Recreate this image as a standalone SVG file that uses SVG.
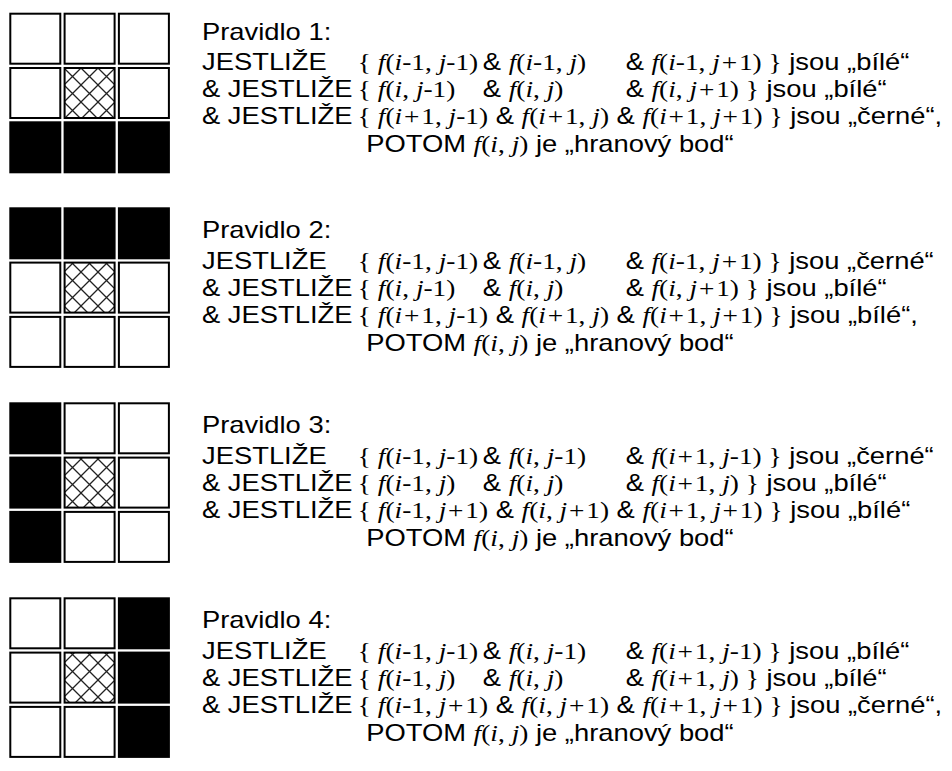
<svg xmlns="http://www.w3.org/2000/svg" width="952" height="771" viewBox="0 0 952 771">
<defs>
<pattern id="hatch" patternUnits="userSpaceOnUse" width="17" height="17" x="64" y="0">
<rect width="17" height="17" fill="#fff"/>
<path d="M0,0 L17,17 M17,0 L0,17" stroke="#222" stroke-width="1.3" fill="none"/>
</pattern>
</defs>
<style>
.w{fill:#fff;stroke:#000;stroke-width:2}
.b{fill:#000;stroke:#000;stroke-width:2}
.h{fill:url(#hatch);stroke:#000;stroke-width:2}
.s{font-family:"Liberation Sans",Arial,sans-serif;font-size:23px;fill:#000}
.m{font-family:"Liberation Serif","Times New Roman",serif;font-size:23px}
.i{font-style:italic}
</style>
<rect width="952" height="771" fill="#fff"/>

<g id="grid1">
<rect class="w" x="10.3" y="13.7" width="50" height="50"/>
<rect class="w" x="64.6" y="13.7" width="50" height="50"/>
<rect class="w" x="118.9" y="13.7" width="50" height="50"/>
<rect class="w" x="10.3" y="68" width="50" height="50"/>
<rect class="h" x="64.6" y="68" width="50" height="50"/>
<rect class="w" x="118.9" y="68" width="50" height="50"/>
<rect class="b" x="10.3" y="122.3" width="50" height="50"/>
<rect class="b" x="64.6" y="122.3" width="50" height="50"/>
<rect class="b" x="118.9" y="122.3" width="50" height="50"/>
</g>
<g id="grid2">
<rect class="b" x="10.3" y="208.3" width="50" height="50"/>
<rect class="b" x="64.6" y="208.3" width="50" height="50"/>
<rect class="b" x="118.9" y="208.3" width="50" height="50"/>
<rect class="w" x="10.3" y="262.6" width="50" height="50"/>
<rect class="h" x="64.6" y="262.6" width="50" height="50"/>
<rect class="w" x="118.9" y="262.6" width="50" height="50"/>
<rect class="w" x="10.3" y="316.9" width="50" height="50"/>
<rect class="w" x="64.6" y="316.9" width="50" height="50"/>
<rect class="w" x="118.9" y="316.9" width="50" height="50"/>
</g>
<g id="grid3">
<rect class="b" x="10.3" y="403.3" width="50" height="50"/>
<rect class="w" x="64.6" y="403.3" width="50" height="50"/>
<rect class="w" x="118.9" y="403.3" width="50" height="50"/>
<rect class="b" x="10.3" y="457.6" width="50" height="50"/>
<rect class="h" x="64.6" y="457.6" width="50" height="50"/>
<rect class="w" x="118.9" y="457.6" width="50" height="50"/>
<rect class="b" x="10.3" y="511.9" width="50" height="50"/>
<rect class="w" x="64.6" y="511.9" width="50" height="50"/>
<rect class="w" x="118.9" y="511.9" width="50" height="50"/>
</g>
<g id="grid4">
<rect class="w" x="10.3" y="598.3" width="50" height="50"/>
<rect class="w" x="64.6" y="598.3" width="50" height="50"/>
<rect class="b" x="118.9" y="598.3" width="50" height="50"/>
<rect class="w" x="10.3" y="652.6" width="50" height="50"/>
<rect class="h" x="64.6" y="652.6" width="50" height="50"/>
<rect class="b" x="118.9" y="652.6" width="50" height="50"/>
<rect class="w" x="10.3" y="706.9" width="50" height="50"/>
<rect class="w" x="64.6" y="706.9" width="50" height="50"/>
<rect class="b" x="118.9" y="706.9" width="50" height="50"/>
</g>

<g id="rule1" transform="translate(202,0) scale(1.19,1)">
<text class="s" x="0" y="40">Pravidlo 1:</text>
<text class="s" y="70"><tspan x="0">JESTLIŽE</tspan><tspan class="m" x="131">{ <tspan class="i">f</tspan>(<tspan class="i">i</tspan>-1, <tspan class="i">j</tspan>-1)</tspan><tspan x="236">&amp; </tspan><tspan class="m"><tspan class="i">f</tspan>(<tspan class="i">i</tspan>-1, <tspan class="i">j</tspan>)</tspan><tspan x="356">&amp; </tspan><tspan class="m"><tspan class="i">f</tspan>(<tspan class="i">i</tspan>-1, <tspan class="i">j</tspan><tspan dx="1.5">+</tspan><tspan dx="1.5">1</tspan>) }</tspan> jsou „bílé“</text>
<text class="s" y="97"><tspan x="0">&amp; JESTLIŽE</tspan><tspan class="m" x="131">{ <tspan class="i">f</tspan>(<tspan class="i">i</tspan>, <tspan class="i">j</tspan>-1)</tspan><tspan x="236">&amp; </tspan><tspan class="m"><tspan class="i">f</tspan>(<tspan class="i">i</tspan>, <tspan class="i">j</tspan>)</tspan><tspan x="356">&amp; </tspan><tspan class="m"><tspan class="i">f</tspan>(<tspan class="i">i</tspan>, <tspan class="i">j</tspan><tspan dx="1.5">+</tspan><tspan dx="1.5">1</tspan>) }</tspan> jsou „bílé“</text>
<text class="s" y="124"><tspan x="0">&amp; JESTLIŽE</tspan><tspan class="m" x="131">{ <tspan class="i">f</tspan>(<tspan class="i">i</tspan><tspan dx="1.5">+</tspan><tspan dx="1.5">1</tspan>, <tspan class="i">j</tspan>-1)</tspan> &amp; <tspan class="m"><tspan class="i">f</tspan>(<tspan class="i">i</tspan><tspan dx="1.5">+</tspan><tspan dx="1.5">1</tspan>, <tspan class="i">j</tspan>)</tspan> &amp; <tspan class="m"><tspan class="i">f</tspan>(<tspan class="i">i</tspan><tspan dx="1.5">+</tspan><tspan dx="1.5">1</tspan>, <tspan class="i">j</tspan><tspan dx="1.5">+</tspan><tspan dx="1.5">1</tspan>) }</tspan> jsou „černé“,</text>
<text class="s" y="152"><tspan x="138">POTOM </tspan><tspan class="m"><tspan class="i">f</tspan>(<tspan class="i">i</tspan>, <tspan class="i">j</tspan>)</tspan> je „hranový bod“</text>
</g>

<g id="rule2" transform="translate(202,0) scale(1.19,1)">
<text class="s" x="0" y="238">Pravidlo 2:</text>
<text class="s" y="269"><tspan x="0">JESTLIŽE</tspan><tspan class="m" x="131">{ <tspan class="i">f</tspan>(<tspan class="i">i</tspan>-1, <tspan class="i">j</tspan>-1)</tspan><tspan x="236">&amp; </tspan><tspan class="m"><tspan class="i">f</tspan>(<tspan class="i">i</tspan>-1, <tspan class="i">j</tspan>)</tspan><tspan x="356">&amp; </tspan><tspan class="m"><tspan class="i">f</tspan>(<tspan class="i">i</tspan>-1, <tspan class="i">j</tspan><tspan dx="1.5">+</tspan><tspan dx="1.5">1</tspan>) }</tspan> jsou „černé“</text>
<text class="s" y="296"><tspan x="0">&amp; JESTLIŽE</tspan><tspan class="m" x="131">{ <tspan class="i">f</tspan>(<tspan class="i">i</tspan>, <tspan class="i">j</tspan>-1)</tspan><tspan x="236">&amp; </tspan><tspan class="m"><tspan class="i">f</tspan>(<tspan class="i">i</tspan>, <tspan class="i">j</tspan>)</tspan><tspan x="356">&amp; </tspan><tspan class="m"><tspan class="i">f</tspan>(<tspan class="i">i</tspan>, <tspan class="i">j</tspan><tspan dx="1.5">+</tspan><tspan dx="1.5">1</tspan>) }</tspan> jsou „bílé“</text>
<text class="s" y="323"><tspan x="0">&amp; JESTLIŽE</tspan><tspan class="m" x="131">{ <tspan class="i">f</tspan>(<tspan class="i">i</tspan><tspan dx="1.5">+</tspan><tspan dx="1.5">1</tspan>, <tspan class="i">j</tspan>-1)</tspan> &amp; <tspan class="m"><tspan class="i">f</tspan>(<tspan class="i">i</tspan><tspan dx="1.5">+</tspan><tspan dx="1.5">1</tspan>, <tspan class="i">j</tspan>)</tspan> &amp; <tspan class="m"><tspan class="i">f</tspan>(<tspan class="i">i</tspan><tspan dx="1.5">+</tspan><tspan dx="1.5">1</tspan>, <tspan class="i">j</tspan><tspan dx="1.5">+</tspan><tspan dx="1.5">1</tspan>) }</tspan> jsou „bílé“,</text>
<text class="s" y="351"><tspan x="138">POTOM </tspan><tspan class="m"><tspan class="i">f</tspan>(<tspan class="i">i</tspan>, <tspan class="i">j</tspan>)</tspan> je „hranový bod“</text>
</g>

<g id="rule3" transform="translate(202,0) scale(1.19,1)">
<text class="s" x="0" y="433">Pravidlo 3:</text>
<text class="s" y="464"><tspan x="0">JESTLIŽE</tspan><tspan class="m" x="131">{ <tspan class="i">f</tspan>(<tspan class="i">i</tspan>-1, <tspan class="i">j</tspan>-1)</tspan><tspan x="236">&amp; </tspan><tspan class="m"><tspan class="i">f</tspan>(<tspan class="i">i</tspan>, <tspan class="i">j</tspan>-1)</tspan><tspan x="356">&amp; </tspan><tspan class="m"><tspan class="i">f</tspan>(<tspan class="i">i</tspan><tspan dx="1.5">+</tspan><tspan dx="1.5">1</tspan>, <tspan class="i">j</tspan>-1) }</tspan> jsou „černé“</text>
<text class="s" y="491"><tspan x="0">&amp; JESTLIŽE</tspan><tspan class="m" x="131">{ <tspan class="i">f</tspan>(<tspan class="i">i</tspan>-1, <tspan class="i">j</tspan>)</tspan><tspan x="236">&amp; </tspan><tspan class="m"><tspan class="i">f</tspan>(<tspan class="i">i</tspan>, <tspan class="i">j</tspan>)</tspan><tspan x="356">&amp; </tspan><tspan class="m"><tspan class="i">f</tspan>(<tspan class="i">i</tspan><tspan dx="1.5">+</tspan><tspan dx="1.5">1</tspan>, <tspan class="i">j</tspan>) }</tspan> jsou „bílé“</text>
<text class="s" y="518"><tspan x="0">&amp; JESTLIŽE</tspan><tspan class="m" x="131">{ <tspan class="i">f</tspan>(<tspan class="i">i</tspan>-1, <tspan class="i">j</tspan><tspan dx="1.5">+</tspan><tspan dx="1.5">1</tspan>)</tspan> &amp; <tspan class="m"><tspan class="i">f</tspan>(<tspan class="i">i</tspan>, <tspan class="i">j</tspan><tspan dx="1.5">+</tspan><tspan dx="1.5">1</tspan>)</tspan> &amp; <tspan class="m"><tspan class="i">f</tspan>(<tspan class="i">i</tspan><tspan dx="1.5">+</tspan><tspan dx="1.5">1</tspan>, <tspan class="i">j</tspan><tspan dx="1.5">+</tspan><tspan dx="1.5">1</tspan>) }</tspan> jsou „bílé“</text>
<text class="s" y="546"><tspan x="138">POTOM </tspan><tspan class="m"><tspan class="i">f</tspan>(<tspan class="i">i</tspan>, <tspan class="i">j</tspan>)</tspan> je „hranový bod“</text>
</g>

<g id="rule4" transform="translate(202,0) scale(1.19,1)">
<text class="s" x="0" y="628">Pravidlo 4:</text>
<text class="s" y="659"><tspan x="0">JESTLIŽE</tspan><tspan class="m" x="131">{ <tspan class="i">f</tspan>(<tspan class="i">i</tspan>-1, <tspan class="i">j</tspan>-1)</tspan><tspan x="236">&amp; </tspan><tspan class="m"><tspan class="i">f</tspan>(<tspan class="i">i</tspan>, <tspan class="i">j</tspan>-1)</tspan><tspan x="356">&amp; </tspan><tspan class="m"><tspan class="i">f</tspan>(<tspan class="i">i</tspan><tspan dx="1.5">+</tspan><tspan dx="1.5">1</tspan>, <tspan class="i">j</tspan>-1) }</tspan> jsou „bílé“</text>
<text class="s" y="686"><tspan x="0">&amp; JESTLIŽE</tspan><tspan class="m" x="131">{ <tspan class="i">f</tspan>(<tspan class="i">i</tspan>-1, <tspan class="i">j</tspan>)</tspan><tspan x="236">&amp; </tspan><tspan class="m"><tspan class="i">f</tspan>(<tspan class="i">i</tspan>, <tspan class="i">j</tspan>)</tspan><tspan x="356">&amp; </tspan><tspan class="m"><tspan class="i">f</tspan>(<tspan class="i">i</tspan><tspan dx="1.5">+</tspan><tspan dx="1.5">1</tspan>, <tspan class="i">j</tspan>) }</tspan> jsou „bílé“</text>
<text class="s" y="713"><tspan x="0">&amp; JESTLIŽE</tspan><tspan class="m" x="131">{ <tspan class="i">f</tspan>(<tspan class="i">i</tspan>-1, <tspan class="i">j</tspan><tspan dx="1.5">+</tspan><tspan dx="1.5">1</tspan>)</tspan> &amp; <tspan class="m"><tspan class="i">f</tspan>(<tspan class="i">i</tspan>, <tspan class="i">j</tspan><tspan dx="1.5">+</tspan><tspan dx="1.5">1</tspan>)</tspan> &amp; <tspan class="m"><tspan class="i">f</tspan>(<tspan class="i">i</tspan><tspan dx="1.5">+</tspan><tspan dx="1.5">1</tspan>, <tspan class="i">j</tspan><tspan dx="1.5">+</tspan><tspan dx="1.5">1</tspan>) }</tspan> jsou „černé“,</text>
<text class="s" y="741"><tspan x="138">POTOM </tspan><tspan class="m"><tspan class="i">f</tspan>(<tspan class="i">i</tspan>, <tspan class="i">j</tspan>)</tspan> je „hranový bod“</text>
</g>
</svg>
